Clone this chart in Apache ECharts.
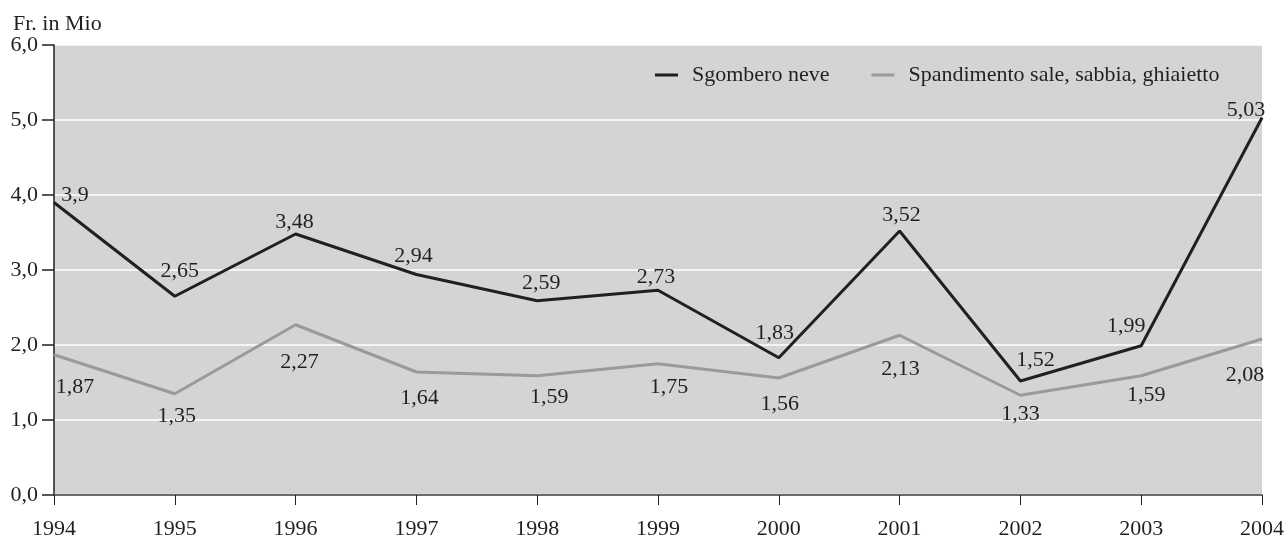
<!DOCTYPE html>
<html>
<head>
<meta charset="utf-8">
<script src="https://cdn.jsdelivr.net/npm/echarts@6/dist/echarts.min.js"></script>
<style>
  html, body { margin: 0; padding: 0; background: #fff; }
  #chart { width: 1287px; height: 540px; }
</style>
</head>
<body>
<div id="chart"></div>
<script>
const years = ['1994', '1995', '1996', '1997', '1998', '1999', '2000', '2001', '2002', '2003', '2004']
const sgombero = [3.9, 2.65, 3.48, 2.94, 2.59, 2.73, 1.83, 3.52, 1.52, 1.99, 5.03]
const spandimento = [1.87, 1.35, 2.27, 1.64, 1.59, 1.75, 1.56, 2.13, 1.33, 1.59, 2.08]
const seriesNames = ['Sgombero neve', 'Spandimento sale, sabbia, ghiaietto']

// label placement, the labels in the original sit by hand
const sgomberoLabelOffsets = [[21, -7], [5, -25], [-1, -12], [-3, -18], [4, -18], [-2, -13], [-4, -25], [2, -16], [15, -21], [-15, -20], [-16, -8]]
const spandimentoLabelOffsets = [[21, 32], [2, 22], [4, 37], [3, 26], [12, 21], [11, 23], [1, 26], [1, 34], [0, 19], [5, 19], [-17, 36]]

const font = 'Liberation Serif'
const fmt = v => String(v).replace('.', ',')

const chart = echarts.init(document.getElementById('chart'), null, { renderer: 'canvas' })

const makeSeries = (name, values, offsets, color) => ({
  name: name,
  type: 'line',
  data: values.map((v, i) => ({
    value: v,
    label: { offset: offsets[i] }
  })),
  symbol: 'circle',
  symbolSize: 1,
  itemStyle: { color: color },
  lineStyle: { color: color, width: 3 },
  label: {
    show: true,
    position: 'inside',
    color: '#231f20',
    fontFamily: font,
    fontSize: 22,
    formatter: p => fmt(p.value)
  },
  emphasis: { disabled: true },
  animation: false
})

chart.setOption({
  backgroundColor: '#ffffff',
  title: {
    text: 'Fr. in Mio',
    left: 8,
    top: 8,
    textStyle: { fontFamily: font, fontSize: 22, fontWeight: 'normal', color: '#231f20' }
  },
  legend: {
    left: 650,
    top: 59,
    icon: 'rect',
    itemWidth: 23,
    itemHeight: 3,
    itemGap: 42,
    textStyle: { fontFamily: font, fontSize: 22, color: '#231f20', padding: [0, 0, 0, 9] },
    data: seriesNames
  },
  grid: {
    left: 54,
    right: 24,
    top: 45,
    bottom: 41,
    show: true,
    backgroundColor: '#d3d4d6',
    borderWidth: 0
  },
  xAxis: {
    type: 'category',
    data: years,
    boundaryGap: false,
    axisLine: { lineStyle: { color: '#6b6b6b', width: 2 } },
    axisTick: { length: 10, lineStyle: { color: '#231f20', width: 1 } },
    axisLabel: { fontFamily: font, fontSize: 22, color: '#231f20', margin: 23 },
    splitLine: { show: false }
  },
  yAxis: {
    type: 'value',
    min: 0,
    max: 6,
    interval: 1,
    axisLine: { show: true, lineStyle: { color: '#231f20', width: 1.5 } },
    axisTick: { show: true, length: 12, lineStyle: { color: '#231f20', width: 1.5 } },
    axisLabel: {
      fontFamily: font,
      fontSize: 22,
      color: '#231f20',
      margin: 16,
      formatter: v => v.toFixed(1).replace('.', ',')
    },
    splitLine: { lineStyle: { color: '#ffffff', width: 1.5 } }
  },
  series: [
    makeSeries(seriesNames[0], sgombero, sgomberoLabelOffsets, '#231f20'),
    makeSeries(seriesNames[1], spandimento, spandimentoLabelOffsets, '#9a9a9a')
  ]
})
</script>
</body>
</html>
